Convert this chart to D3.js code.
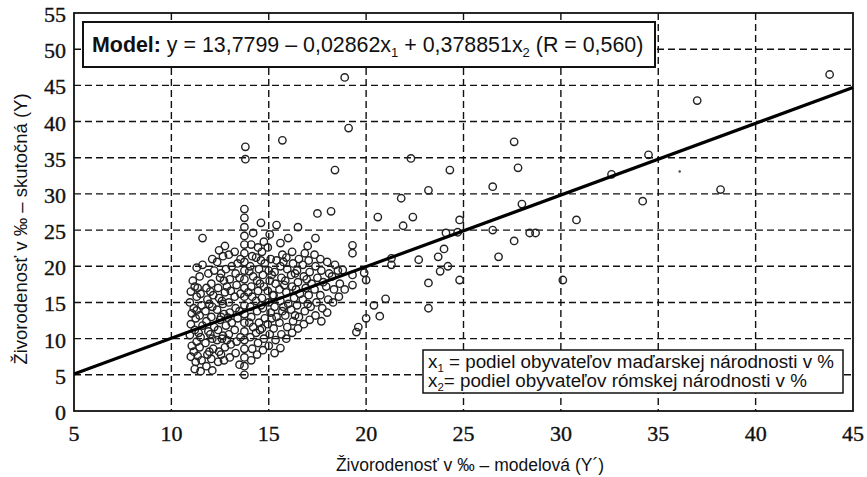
<!DOCTYPE html>
<html>
<head>
<meta charset="utf-8">
<script src="https://cdn.jsdelivr.net/npm/d3@7"></script>
<style>
  body { margin: 0; background: #fff; }
  .tick-label { font-family: "Liberation Serif", "DejaVu Serif", "Times New Roman", serif; font-size: 22px; fill: #111; stroke: #111; stroke-width: 0.35px; }
</style>
</head>
<body>
<div id="chart"></div>
<script>
// axis ticks
const xTicks = [5, 10, 15, 20, 25, 30, 35, 40, 45];
const yTicks = [0, 5, 10, 15, 20, 25, 30, 35, 40, 45, 50, 55];
const xGrid = [10, 15, 20, 25, 30, 35, 40];
const yGrid = [5, 10, 15, 20, 25, 30, 35, 40, 45, 50];

// fitted line (modelled vs actual)
const fitX = [5, 45];
const fitY = [5.1, 44.7];

// dense cloud of districts, [modelled, actual]
const clusterPoints = [
  [11.0,7.5],[11.05,9.0],[10.95,10.5],[11.0,12.0],[11.05,13.5],[10.95,15.0],[11.0,16.5],[11.1,18.0],
  [11.2,5.8],[11.25,6.8],[11.15,8.2],[11.3,9.6],[11.2,11.2],[11.25,12.8],[11.15,14.2],[11.3,15.8],[11.2,17.2],[11.3,19.8],
  [11.5,5.5],[11.55,7.0],[11.45,8.8],[11.5,10.2],[11.6,11.8],[11.45,13.2],[11.55,14.6],[11.5,16.2],[11.45,18.6],[11.6,20.2],
  [11.8,6.2],[11.85,7.8],[11.75,9.4],[11.9,11.0],[11.8,12.4],[11.75,13.8],[11.85,15.4],[11.8,17.0],[11.9,19.0],[11.6,23.9],
  [12.1,5.6],[12.05,7.2],[12.15,8.6],[12.1,10.0],[12.2,11.6],[12.05,13.0],[12.1,14.4],[12.15,16.0],[12.05,17.6],[12.2,19.4],[12.1,21.0],
  [12.4,6.8],[12.45,8.2],[12.35,9.8],[12.4,11.2],[12.5,12.6],[12.35,14.0],[12.45,15.6],[12.4,17.0],[12.5,18.4],[12.35,20.6],[12.45,22.2],
  [12.7,7.0],[12.75,8.8],[12.65,10.4],[12.8,11.8],[12.7,13.4],[12.65,14.8],[12.75,16.4],[12.7,18.0],[12.8,19.6],[12.65,21.4],[12.75,22.8],
  [13.0,7.4],[13.05,9.2],[12.95,10.6],[13.1,12.2],[13.0,13.6],[12.95,15.0],[13.05,16.6],[13.0,18.2],[13.1,20.0],[12.95,21.6],
  [13.3,8.0],[13.35,9.6],[13.25,11.2],[13.4,12.8],[13.3,14.2],[13.25,15.8],[13.35,17.4],[13.3,19.0],[13.4,20.4],[13.25,22.0],
  [13.75,5.0],[13.75,6.2],[13.75,7.4],[13.75,8.6],[13.75,9.8],[13.75,11.0],[13.75,12.2],[13.75,13.4],[13.75,14.6],[13.75,15.8],
  [13.75,17.0],[13.75,18.2],[13.75,19.4],[13.75,20.6],[13.75,21.8],[13.75,23.0],[13.75,24.2],[13.75,25.4],[13.75,26.7],[13.75,27.9],
  [14.1,7.0],[14.15,8.6],[14.05,10.2],[14.2,11.6],[14.1,13.0],[14.05,14.4],[14.15,15.8],[14.1,17.2],[14.2,18.6],[14.05,20.0],[14.15,21.4],[14.1,23.0],[14.2,24.6],
  [14.4,7.8],[14.45,9.4],[14.35,10.8],[14.5,12.2],[14.4,13.8],[14.35,15.2],[14.45,16.6],[14.4,18.0],[14.5,19.6],[14.35,21.2],[14.45,22.6],[14.6,26.0],
  [14.7,8.4],[14.75,10.0],[14.65,11.4],[14.8,12.8],[14.7,14.2],[14.65,15.6],[14.75,17.2],[14.7,18.8],[14.8,20.4],[14.65,22.0],[14.75,23.4],
  [15.0,9.0],[15.05,10.6],[14.95,12.0],[15.1,13.6],[15.0,15.0],[14.95,16.6],[15.05,18.0],[15.0,19.4],[15.1,21.0],[14.95,22.6],[15.05,24.4],
  [15.3,8.0],[15.35,9.8],[15.25,11.4],[15.4,13.0],[15.3,14.4],[15.25,16.0],[15.35,17.6],[15.3,19.2],[15.4,20.8],[15.4,25.7],
  [15.6,8.7],[15.65,10.6],[15.55,12.2],[15.7,13.8],[15.6,15.2],[15.55,16.8],[15.65,18.4],[15.6,20.0],[15.7,21.6],[15.6,23.2],
  [15.9,10.0],[15.95,11.6],[15.85,13.2],[16.0,14.8],[15.9,16.4],[15.85,18.0],[15.95,19.6],[15.9,21.2],[16.0,23.9],
  [16.2,10.8],[16.25,12.4],[16.15,14.0],[16.3,15.6],[16.2,17.2],[16.15,18.8],[16.25,20.4],[16.2,22.0],
  [16.5,11.4],[16.55,13.0],[16.45,14.6],[16.6,16.2],[16.5,17.8],[16.45,19.4],[16.55,21.0],[16.5,25.4],
  [16.8,12.0],[16.85,13.8],[16.75,15.4],[16.9,17.0],[16.8,18.6],[16.75,20.2],[16.85,21.8],
  [17.1,12.6],[17.15,14.4],[17.05,16.0],[17.2,17.6],[17.1,19.2],[17.05,20.8],[17.0,22.8],
  [17.4,13.2],[17.45,15.0],[17.35,16.8],[17.5,18.4],[17.4,20.0],[17.35,21.6],[17.4,23.9],[17.5,27.3],
  [17.7,12.4],[17.75,14.2],[17.65,16.0],[17.8,17.8],[17.7,19.4],[17.65,21.0],
  [18.0,13.6],[18.05,15.4],[17.95,17.2],[18.1,19.0],[18.0,20.6],
  [18.3,15.0],[18.35,16.8],[18.25,18.6],[18.4,20.2],[18.2,27.6],
  [18.6,15.8],[18.65,17.6],[18.55,19.4],
  [18.9,16.8],[18.8,19.5],[19.3,17.4],[19.3,18.8],[19.9,19.1],[20.0,18.1],[19.3,21.8],[19.3,22.9],
  [19.5,10.9],[19.6,11.6],[20.0,12.8],
  // second, offset layer of the cloud
  [11.35,7.6],[11.4,10.8],[11.3,13.9],[11.35,17.0],
  [11.95,8.2],[12.0,10.6],[11.95,14.8],[12.0,16.5],
  [12.55,7.8],[12.6,10.0],[12.55,13.0],[12.6,15.2],[12.55,19.0],
  [12.85,9.8],[12.9,12.9],[12.85,17.2],
  [13.5,6.4],[13.55,10.2],[13.5,13.8],[13.55,16.2],[13.5,18.4],[13.55,21.0],
  [14.0,12.2],[13.95,16.4],[14.0,19.3],
  [14.55,11.2],[14.6,14.6],[14.55,17.6],[14.6,20.8],
  [15.15,12.8],[15.2,16.0],[15.15,18.8],
  [15.75,14.4],[15.8,17.4],[15.75,20.6],
  [16.35,13.2],[16.4,16.8],[16.35,19.0],
  [17.0,14.8],[16.95,18.2]
];

// scattered districts away from the cloud
const outlierPoints = [
  [13.8,36.5],[13.8,34.8],[15.7,37.4],[18.9,46.1],[19.1,39.1],[18.4,33.3],
  [20.6,26.8],[22.3,34.9],[24.3,33.3],[27.6,37.2],[27.8,33.6],[23.2,30.5],[26.5,31.0],[21.8,29.4],
  [28.0,28.6],[34.2,29.0],[34.5,35.4],[32.6,32.7],[22.4,26.8],[21.9,25.6],[24.8,26.4],[30.8,26.4],
  [24.1,24.6],[24.7,24.7],[26.5,25.0],[28.4,24.6],[28.7,24.6],[27.6,23.5],[26.8,21.3],[24.0,22.4],
  [23.7,21.3],[22.7,20.9],[21.3,21.1],[21.3,20.2],[24.2,20.0],[23.8,19.3],[24.8,18.1],[23.2,17.7],
  [23.2,14.2],[30.1,18.1],[21.0,15.5],[20.7,13.1],[20.4,14.6],[43.8,46.5],[37.0,42.9],[38.2,30.6]
];
const dotPoints = [[36.1,33.1]];

const modelLabel = "Model:";
const modelParts = [" y = 13,7799 – 0,02862x", "1", " + 0,378851x", "2", " (R = 0,560)"];
const legendLines = [
  ["x", "1", " = podiel obyvateľov maďarskej národnosti v %"],
  ["x", "2", "= podiel obyvateľov rómskej národnosti v %"]
];
const xTitle = "Živorodenosť v ‰ – modelová (Y´)";
const yTitle = "Živorodenosť v ‰ – skutočná (Y)";

const width = 867, height = 477;
const svg = d3.select("#chart").append("svg")
  .attr("width", width).attr("height", height);

const x = d3.scaleLinear().domain([5, 45]).range([74, 853]);
const y = d3.scaleLinear().domain([0, 55]).range([411, 13]);

const sans = "'Liberation Sans', Arial, sans-serif";

// dashed grid
svg.append("g").selectAll("line").data(xGrid).join("line")
  .attr("x1", d => x(d)).attr("x2", d => x(d))
  .attr("y1", y(55)).attr("y2", y(0))
  .attr("stroke", "#111").attr("stroke-width", 1.4).attr("stroke-dasharray", "7,4");
svg.append("g").selectAll("line").data(yGrid).join("line")
  .attr("x1", x(5)).attr("x2", x(45))
  .attr("y1", d => y(d)).attr("y2", d => y(d))
  .attr("stroke", "#111").attr("stroke-width", 1.4).attr("stroke-dasharray", "7,4");

// frame
svg.append("rect")
  .attr("x", x(5)).attr("y", y(55))
  .attr("width", x(45) - x(5)).attr("height", y(0) - y(55))
  .attr("fill", "none").attr("stroke", "#111").attr("stroke-width", 1.8);

// tick labels (serif, as in the printed figure)
svg.append("g").selectAll("text").data(xTicks).join("text")
  .attr("class", "tick-label")
  .attr("x", d => x(d)).attr("y", y(0) + 30)
  .attr("text-anchor", "middle")
  .text(d => d);
svg.append("g").selectAll("text").data(yTicks).join("text")
  .attr("class", "tick-label")
  .attr("x", x(5) - 8).attr("y", d => y(d) + 9)
  .attr("text-anchor", "end")
  .text(d => d);

// points
svg.append("g").selectAll("circle").data(clusterPoints.concat(outlierPoints)).join("circle")
  .attr("cx", d => x(d[0])).attr("cy", d => y(d[1]))
  .attr("r", 3.7)
  .attr("fill", "none").attr("stroke", "#222").attr("stroke-width", 1.4);
svg.append("g").selectAll("circle").data(dotPoints).join("circle")
  .attr("cx", d => x(d[0])).attr("cy", d => y(d[1]))
  .attr("r", 1.2).attr("fill", "#444");

// fitted line
svg.append("path")
  .datum(d3.zip(fitX, fitY))
  .attr("d", d3.line().x(d => x(d[0])).y(d => y(d[1])))
  .attr("fill", "none").attr("stroke", "#000").attr("stroke-width", 3.2);

// model box
svg.append("rect").attr("x", 83).attr("y", 22).attr("width", 572).attr("height", 45)
  .attr("fill", "#fff").attr("stroke", "#111").attr("stroke-width", 2);
const mt = svg.append("text").attr("x", 92).attr("y", 52)
  .attr("font-family", sans).attr("font-size", 21.4).attr("fill", "#111");
mt.append("tspan").attr("font-weight", "bold").text(modelLabel);
modelParts.forEach((p, i) => {
  const sub = i % 2 === 1;
  mt.append("tspan")
    .attr("font-size", sub ? 13 : 21.4)
    .attr("dy", sub ? 5 : (i > 0 ? -5 : 0))
    .text(p);
});

// legend box
svg.append("rect").attr("x", 423).attr("y", 350).attr("width", 420).attr("height", 43)
  .attr("fill", "#fff").attr("stroke", "#111").attr("stroke-width", 1.5);
legendLines.forEach((line, i) => {
  const t = svg.append("text").attr("x", 428).attr("y", 368 + i * 19)
    .attr("font-family", sans).attr("font-size", 18.8).attr("fill", "#111");
  t.append("tspan").text(line[0]);
  t.append("tspan").attr("font-size", 11.5).attr("dy", 4).text(line[1]);
  t.append("tspan").attr("dy", -4).text(line[2]);
});

// axis titles
svg.append("text").attr("x", 470).attr("y", 471).attr("text-anchor", "middle")
  .attr("font-family", sans).attr("font-size", 17.5).attr("fill", "#111").text(xTitle);
svg.append("text").attr("transform", "translate(27,229) rotate(-90)").attr("text-anchor", "middle")
  .attr("font-family", sans).attr("font-size", 18.5).attr("fill", "#111").text(yTitle);
</script>
</body>
</html>
